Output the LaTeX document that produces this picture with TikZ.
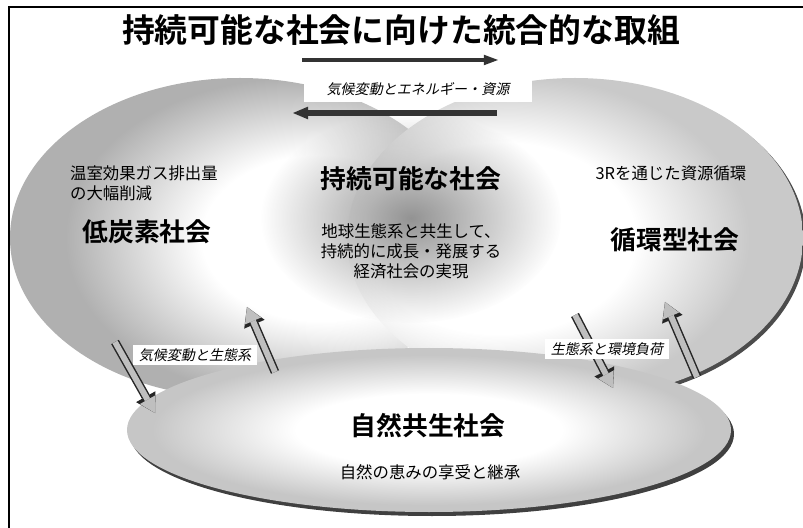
\documentclass[tikz,border=0pt]{standalone}
\usepackage{fontspec}
\newfontfamily\jp{Noto Sans CJK JP}[BoldFont={Noto Sans CJK JP Bold}]
\newfontfamily\jpit{Noto Sans CJK JP}[FakeSlant=0.2]
\usetikzlibrary{arrows.meta}
\usetikzlibrary{fadings}

\pgfdeclareradialshading{rimleft}{\pgfpoint{12bp}{0bp}}{color(0bp)=(white); color(13bp)=(white); color(25bp)=(gray!62); color(50bp)=(gray!62)}
\pgfdeclareradialshading{rimright}{\pgfpoint{-12bp}{0bp}}{color(0bp)=(white); color(15bp)=(white); color(25bp)=(gray!42); color(50bp)=(gray!42)}
\pgfdeclareradialshading{rimbottom}{\pgfpoint{0bp}{0bp}}{color(0bp)=(white); color(11bp)=(white); color(23bp)=(gray!45); color(50bp)=(gray!45)}
\tikzfading[name=blobfade, inner color=transparent!0, outer color=transparent!100]

\tikzset{
    bigtext/.style={font=\jp\bfseries\fontsize{22}{24}\selectfont},
    smalltext/.style={font=\jp\fontsize{14}{17}\selectfont},
    tagtext/.style={font=\jpit\fontsize{12}{14}\selectfont, fill=white, inner xsep=5pt, inner ysep=3pt},
    blockarrow/.style={gray!50, line width=5pt, -{Triangle[length=13pt,width=15pt,line width=0pt]},
        preaction={draw=black!85, line width=7.5pt, -{Triangle[length=16pt,width=19pt,line width=0pt]}}},
}

\begin{document}
\begin{tikzpicture}[x=0.3mm, y=-0.3mm]
    \clip (0,0) rectangle (803,528);

    % frame
    \draw[line width=1.2pt] (9,528) -- (9,7) -- (803,7);

    % left and right ellipses
    \shade[shading=rimleft] (240,238) ellipse (230 and 160);
    \begin{scope}
        \clip (600,0) rectangle (803,528);
        \fill[black!70] (578,241) ellipse (228 and 160);
    \end{scope}
    \shade[shading=rimright] (575,238) ellipse (228 and 160);

    % shaded centre
    \fill[white, path fading=blobfade] (410,265) ellipse (150 and 125);
    \fill[gray!85, path fading=blobfade] (411,218) ellipse (150 and 105);

    % bottom ellipse
    \fill[black!75] (432,434) ellipse (302 and 82);
    \shade[shading=rimbottom] (429,430) ellipse (302 and 82);

    % title
    \node (title) at (401,30) {\jp\bfseries\fontsize{28}{30}\selectfont 持続可能な社会に向けた統合的な取組};

    % top arrows
    \coordinate (ta1) at (302,60);
    \coordinate (ta2) at (498,60);
    \coordinate (tb1) at (497,113);
    \coordinate (tb2) at (293,113);
    \draw[black!80, line width=3pt, -{Triangle[length=12pt,width=9pt,line width=0pt]}] (ta1) -- (ta2);
    \draw[black!80, line width=4.5pt, -{Triangle[length=13pt,width=11pt,line width=0pt]}] (tb1) -- (tb2);
    \node[tagtext, minimum width=195pt, minimum height=23pt] (tagtop) at (418,89) {気候変動とエネルギー・資源};

    % texts in the ellipses
    \node[smalltext, align=left, anchor=west] (lownote) at (66,183) {温室効果ガス排出量\\の大幅削減};
    \node[bigtext] (lowcarbon) at (147,232) {低炭素社会};
    \node[bigtext] (sustain) at (411,179) {持続可能な社会};
    \node[smalltext, align=center] (sustainnote) at (411,251) {地球生態系と共生して、\\持続的に成長・発展する\\経済社会の実現};
    \node[smalltext] (recnote) at (671,173) {3Rを通じた資源循環};
    \node[bigtext] (recycle) at (675,240) {循環型社会};
    \node[bigtext] (nature) at (428,426) {自然共生社会};
    \node[smalltext] (naturenote) at (430,472) {自然の恵みの享受と継承};

    % block arrows
    \coordinate (la1) at (115,342);
    \coordinate (la2) at (155,413);
    \coordinate (lb1) at (275,372);
    \coordinate (lb2) at (247,307);
    \coordinate (ra1) at (575,315);
    \coordinate (ra2) at (613,388);
    \coordinate (rb1) at (697,377);
    \coordinate (rb2) at (665,302);
    \draw[blockarrow] (la1) -- (la2);
    \draw[blockarrow] (lb1) -- (lb2);
    \draw[blockarrow] (ra1) -- (ra2);
    \draw[blockarrow] (rb1) -- (rb2);
    \node[tagtext] (tagleft) at (195,355) {気候変動と生態系};
    \node[tagtext] (tagright) at (607,349) {生態系と環境負荷};
\end{tikzpicture}
\end{document}
